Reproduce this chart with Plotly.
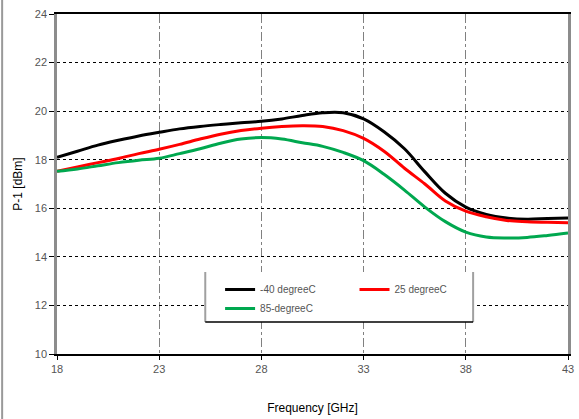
import plotly.graph_objects as go

freq = [18, 19, 20, 21, 22, 23, 24, 25, 26, 27, 28, 29, 30, 31, 32, 33, 34, 35, 36, 37, 38, 39, 40, 41, 42, 43]
p1_m40 = [18.10, 18.35, 18.60, 18.80, 18.98, 19.13, 19.27, 19.37, 19.45, 19.52, 19.58, 19.68, 19.82, 19.93, 19.93, 19.68,
          19.15, 18.45, 17.50, 16.62, 16.05, 15.75, 15.60, 15.55, 15.58, 15.60]
p1_25 = [17.52, 17.70, 17.88, 18.05, 18.25, 18.43, 18.63, 18.85, 19.05, 19.20, 19.30, 19.37, 19.40, 19.37, 19.20, 18.88,
         18.35, 17.65, 17.00, 16.30, 15.88, 15.65, 15.50, 15.45, 15.42, 15.40]
p1_85 = [17.52, 17.62, 17.75, 17.88, 17.98, 18.06, 18.25, 18.45, 18.68, 18.85, 18.91, 18.85, 18.70, 18.55, 18.30, 17.96,
         17.40, 16.75, 16.05, 15.45, 15.02, 14.82, 14.78, 14.80, 14.88, 14.98]
x_ticks = [18, 23, 28, 33, 38, 43]
y_ticks = [10, 12, 14, 16, 18, 20, 22, 24]

fig = go.Figure()
fig.add_trace(go.Scatter(x=freq, y=p1_m40, mode="lines", name="-40 degreeC",
                         line=dict(color="#000000", width=3, shape="spline"), legend="legend"))
fig.add_trace(go.Scatter(x=freq, y=p1_25, mode="lines", name="25 degreeC",
                         line=dict(color="#ff0000", width=3, shape="spline"), legend="legend2"))
fig.add_trace(go.Scatter(x=freq, y=p1_85, mode="lines", name="85-degreeC",
                         line=dict(color="#00a84f", width=3, shape="spline"), legend="legend"))

W, H = 579, 419
L, R, T, B = 57, 5, 14, 65
pw = W - L - R
ph = H - T - B

def px2paper_x(px):
    return (px - L) / pw

def px2paper_y(py):
    return 1 - (py - T) / ph

shapes = [
    # legend box
    dict(type="rect", xref="paper", yref="paper", x0=px2paper_x(207), x1=px2paper_x(478),
         y0=px2paper_y(322), y1=px2paper_y(272), fillcolor="white", line=dict(width=0), layer="above"),
    dict(type="line", xref="paper", yref="paper", x0=px2paper_x(207), x1=px2paper_x(207),
         y0=px2paper_y(322), y1=px2paper_y(272), line=dict(color="#a0a0a0", width=2), layer="above"),
    dict(type="line", xref="paper", yref="paper", x0=px2paper_x(478), x1=px2paper_x(478),
         y0=px2paper_y(322), y1=px2paper_y(272), line=dict(color="#a0a0a0", width=2), layer="above"),
    dict(type="line", xref="paper", yref="paper", x0=px2paper_x(207), x1=px2paper_x(478),
         y0=px2paper_y(322), y1=px2paper_y(322), line=dict(color="#000000", width=1.5), layer="above"),
    # left image border
    dict(type="line", xref="paper", yref="paper", x0=px2paper_x(1.5), x1=px2paper_x(1.5),
         y0=px2paper_y(419), y1=px2paper_y(0), line=dict(color="#999999", width=2), layer="above"),
]

fig.update_layout(
    width=W, height=H,
    margin=dict(l=L, r=R, t=T, b=B),
    paper_bgcolor="white", plot_bgcolor="white",
    font=dict(family="Liberation Sans, Arial, sans-serif", size=11, color="#000000"),
    shapes=shapes,
    legend=dict(x=px2paper_x(222), y=px2paper_y(275), xanchor="left", yanchor="top",
                bgcolor="rgba(0,0,0,0)", borderwidth=0, tracegroupgap=0,
                font=dict(size=10, color="#555555"), itemwidth=30),
    legend2=dict(x=px2paper_x(358), y=px2paper_y(275), xanchor="left", yanchor="top",
                 bgcolor="rgba(0,0,0,0)", borderwidth=0,
                 font=dict(size=10, color="#555555"), itemwidth=30),
    xaxis=dict(range=[18, 43], tickvals=x_ticks, ticktext=[str(v) for v in x_ticks],
               showgrid=True, gridcolor="#808080", griddash="dashdot", gridwidth=1,
               showline=True, linecolor="#000000", linewidth=1.5, mirror=True,
               ticks="outside", ticklen=4, tickcolor="#000000",
               tickfont=dict(size=11, color="#555555"), zeroline=False,
               title=dict(text="Frequency [GHz]", font=dict(size=12, color="#000000"), standoff=30)),
    yaxis=dict(range=[10, 24], tickvals=y_ticks, ticktext=[str(v) for v in y_ticks],
               showgrid=True, gridcolor="#000000", griddash="dot", gridwidth=1,
               showline=True, linecolor="#8c8c8c", linewidth=2.5, mirror=True,
               ticks="outside", ticklen=5, tickcolor="#000000",
               tickfont=dict(size=11, color="#555555"), zeroline=False,
               title=dict(text="P-1 [dBm]", font=dict(size=12, color="#000000"), standoff=10)),
)

fig.write_html("out.html", config={"displayModeBar": False},
               post_script="document.body.style.margin='0';document.body.style.overflow='hidden';")
